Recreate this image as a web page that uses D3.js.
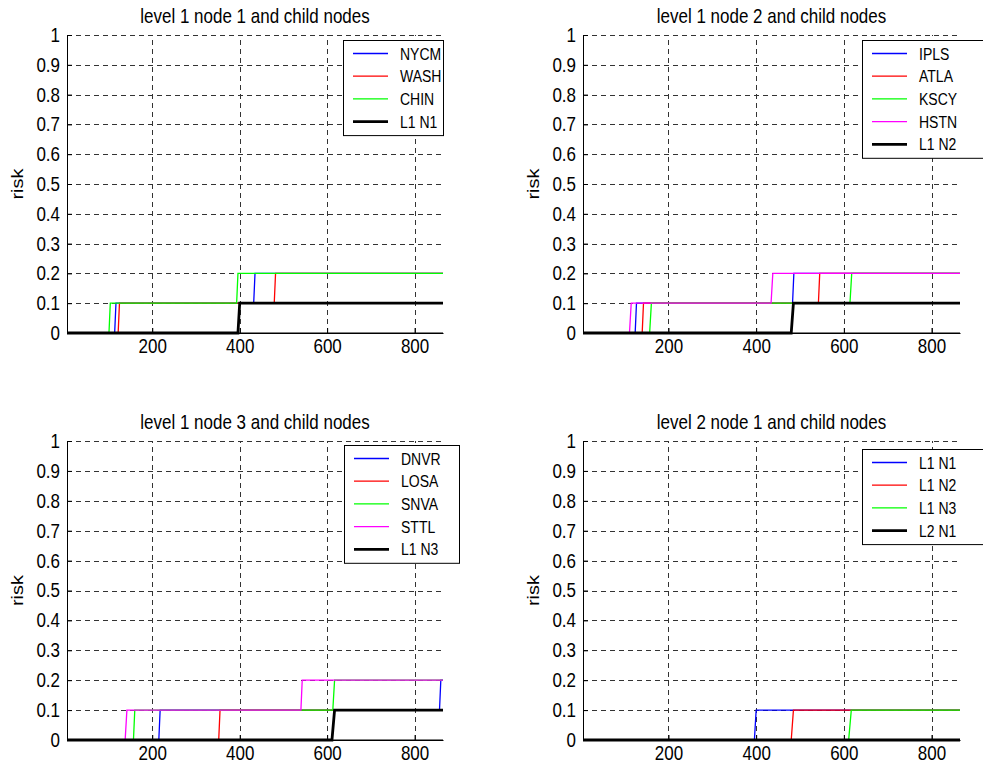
<!DOCTYPE html>
<html>
<head>
<meta charset="utf-8">
<script src="https://cdn.jsdelivr.net/npm/d3@7"></script>
<style>
  body { margin: 0; background: #fff; }
  svg text { font-family: "Liberation Sans", Arial, Helvetica, sans-serif; fill: #000; }
</style>
</head>
<body>
<div id="chart"></div>
<script>
// ---- data ----
const xDomain = [5, 865];
const xTicks = [200, 400, 600, 800];
const yTicks = [0, 0.1, 0.2, 0.3, 0.4, 0.5, 0.6, 0.7, 0.8, 0.9, 1];
const yTickLabels = ['0', '0.1', '0.2', '0.3', '0.4', '0.5', '0.6', '0.7', '0.8', '0.9', '1'];

const titles = [
  'level 1 node 1 and child nodes',
  'level 1 node 2 and child nodes',
  'level 1 node 3 and child nodes',
  'level 2 node 1 and child nodes'
];

const names1 = ['NYCM', 'WASH', 'CHIN', 'L1 N1'];
const names2 = ['IPLS', 'ATLA', 'KSCY', 'HSTN', 'L1 N2'];
const names3 = ['DNVR', 'LOSA', 'SNVA', 'STTL', 'L1 N3'];
const names4 = ['L1 N1', 'L1 N2', 'L1 N3', 'L2 N1'];

// breakpoints [t, risk] of each step curve
const nycm = [[5,0],[114,0],[117,0.1],[432,0.1],[435,0.2],[865,0.2]];
const wash = [[5,0],[122,0],[125,0.1],[479,0.1],[482,0.2],[865,0.2]];
const chin = [[5,0],[101,0],[104,0.1],[393,0.1],[396,0.2],[865,0.2]];
const l1n1 = [[5,0],[396,0],[400,0.1],[865,0.1]];

const ipls = [[5,0],[124,0],[127,0.1],[483,0.1],[486,0.2],[865,0.2]];
const atla = [[5,0],[140,0],[143,0.1],[542,0.1],[545,0.2],[865,0.2]];
const kscy = [[5,0],[157,0],[161,0.1],[614,0.1],[618,0.2],[865,0.2]];
const hstn = [[5,0],[111,0],[115,0.1],[434,0.1],[438,0.2],[865,0.2]];
const l1n2 = [[5,0],[480,0],[485,0.1],[865,0.1]];

const dnvr = [[5,0],[215,0],[218,0.1],[857,0.1],[860,0.2],[865,0.2]];
const losa = [[5,0],[352,0],[355,0.1],[865,0.1]];
const snva = [[5,0],[157,0],[160,0.1],[613,0.1],[617,0.2],[865,0.2]];
const sttl = [[5,0],[138,0],[142,0.1],[540,0.1],[543,0.2],[865,0.2]];
const l1n3 = [[5,0],[611,0],[617,0.1],[865,0.1]];

const l2n1 = [[5,0],[865,0]];

// ---- layout / style ----
const W = 983, H = 769;
const blue = '#0000ff', red = '#ff0000', green = '#00ff00', magenta = '#ff00ff', black = '#000';
const FS = 17, STRETCH = 1.18, LFS = 14, LSTRETCH = 1.22;

const panels = [
  { box: {x0: 67,  x1: 443, y0: 35,  y1: 333}, title: titles[0], names: names1,
    series: [nycm, wash, chin, l1n1], colors: [blue, red, green, black],
    legend: {x: 343, y: 40, w: 100} },
  { box: {x0: 583, x1: 960, y0: 35,  y1: 333}, title: titles[1], names: names2,
    series: [ipls, atla, kscy, hstn, l1n2], colors: [blue, red, green, magenta, black],
    legend: {x: 862, y: 40, w: 125} },
  { box: {x0: 67,  x1: 443, y0: 441, y1: 740}, title: titles[2], names: names3,
    series: [dnvr, losa, snva, sttl, l1n3], colors: [blue, red, green, magenta, black],
    legend: {x: 344, y: 445, w: 115} },
  { box: {x0: 583, x1: 960, y0: 441, y1: 740}, title: titles[3], names: names4,
    series: [l1n1, l1n2, l1n3, l2n1], colors: [blue, red, green, black],
    legend: {x: 862, y: 449, w: 125} }
];

const svg = d3.select('#chart').append('svg')
  .attr('width', W).attr('height', H)
  .style('display', 'block');

panels.forEach(p => {
  const b = p.box;
  const x = d3.scaleLinear().domain(xDomain).range([b.x0, b.x1]);
  const y = d3.scaleLinear().domain([0, 1]).range([b.y1, b.y0]);
  const g = svg.append('g');

  // grid
  const grid = g.append('g')
    .attr('stroke', '#333').attr('stroke-width', 1)
    .attr('stroke-dasharray', '5,4').attr('shape-rendering', 'crispEdges');
  xTicks.forEach(t => {
    grid.append('line').attr('x1', Math.round(x(t)) + 0.5).attr('x2', Math.round(x(t)) + 0.5)
      .attr('y1', b.y1).attr('y2', b.y0);
  });
  yTicks.filter(t => t > 0).forEach(t => {
    grid.append('line').attr('x1', b.x0).attr('x2', b.x1)
      .attr('y1', Math.round(y(t)) + 0.5).attr('y2', Math.round(y(t)) + 0.5);
  });

  // axes
  const xa = d3.axisBottom(x).tickValues(xTicks).tickFormat(d3.format('d'))
    .tickSizeInner(-5).tickSizeOuter(0).tickPadding(5);
  const ya = d3.axisLeft(y).tickValues(yTicks).tickFormat((d, i) => yTickLabels[i])
    .tickSizeInner(-5).tickSizeOuter(0).tickPadding(7);
  const xg = g.append('g').attr('transform', `translate(0,${b.y1})`).call(xa);
  const yg = g.append('g').attr('transform', `translate(${b.x0},0)`).call(ya);
  [xg, yg].forEach(a => {
    a.attr('font-family', null).attr('font-size', FS);
    a.select('.domain').attr('stroke', '#000');
    a.selectAll('.tick line').attr('stroke', '#000');
    a.selectAll('text').attr('fill', '#000').attr('transform', `scale(1,${STRETCH})`);
  });
  g.append('line').attr('x1', b.x0).attr('x2', b.x1).attr('y1', b.y1).attr('y2', b.y1)
    .attr('stroke', '#000');

  // y label
  g.append('text')
    .attr('transform', `translate(${b.x0 - 44},${(b.y0 + b.y1) / 2}) rotate(-90) scale(${STRETCH},1)`)
    .attr('text-anchor', 'middle').attr('font-size', FS)
    .text('risk');

  // title
  g.append('text')
    .attr('transform', `translate(${(b.x0 + b.x1) / 2},${b.y0 - 12}) scale(1,${STRETCH})`)
    .attr('text-anchor', 'middle').attr('font-size', FS)
    .text(p.title);

  // series
  const line = d3.line().x(d => x(d[0])).y(d => y(d[1]));
  p.series.forEach((s, i) => {
    const isBlack = p.colors[i] === black;
    g.append('path').datum(s)
      .attr('fill', 'none')
      .attr('stroke', p.colors[i])
      .attr('stroke-width', isBlack ? 2.8 : 1.3)
      .attr('d', line);
  });

  // legend
  const L = p.legend, rowH = 22.7, pad = 13.5;
  const lh = pad * 2 + rowH * (p.names.length - 1);
  const lg = g.append('g').attr('transform', `translate(${L.x},${L.y})`);
  lg.append('rect').attr('x', 0.5).attr('y', 0.5).attr('width', L.w).attr('height', lh)
    .attr('fill', '#fff').attr('stroke', '#000').attr('stroke-width', 1);
  p.names.forEach((n, i) => {
    const yy = pad + i * rowH;
    const isBlack = p.colors[i] === black;
    lg.append('line').attr('x1', 10).attr('x2', 45).attr('y1', yy).attr('y2', yy)
      .attr('stroke', p.colors[i])
      .attr('stroke-width', isBlack ? 2.8 : 1.3);
    lg.append('text')
      .attr('transform', `translate(57,${yy}) scale(1,${LSTRETCH})`)
      .attr('dy', '0.36em')
      .attr('font-size', LFS).text(n);
  });
});
</script>
</body>
</html>
